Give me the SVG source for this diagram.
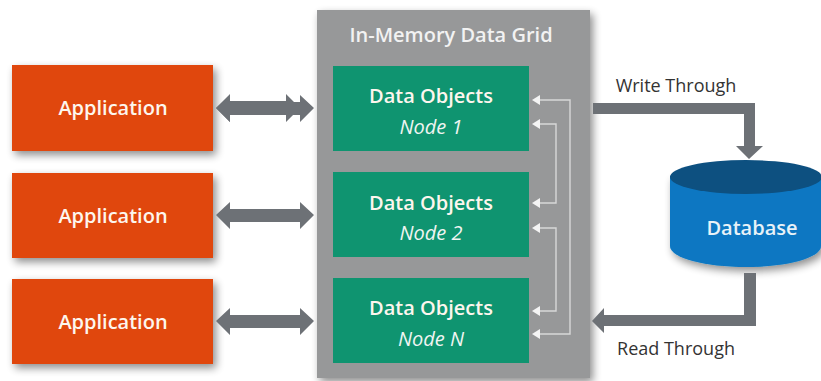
<svg xmlns="http://www.w3.org/2000/svg" width="821" height="381" viewBox="0 0 821 381">
<defs>
<style>
.t{font-family:"Open Sans","Noto Sans",sans-serif;text-anchor:middle}
.b{font-size:20px;font-weight:600;fill:#fdf6ee}
.h{font-size:20px;font-weight:600;fill:#f2f2f2}
.i{font-size:20px;font-style:italic;fill:#f0f5f2}
.l{font-size:18px;fill:#333}
.app{fill:#e0460a;filter:url(#s)}
.obj{fill:#0f9470}
.ar{fill:#6d7176}
.th{fill:none;stroke:#d8d8d8;stroke-width:1.4}
.hd{fill:#f4f4f4}
</style>
<filter id="s" x="-15%" y="-15%" width="130%" height="135%"><feGaussianBlur in="SourceAlpha" stdDeviation="4"/><feOffset dx="3" dy="4"/><feComponentTransfer><feFuncA type="linear" slope="0.45"/></feComponentTransfer><feMerge><feMergeNode/><feMergeNode in="SourceGraphic"/></feMerge></filter>
<symbol id="dbl" overflow="visible"><path d="M0 0L14 -14V-7H70V-14L84 0L70 14V7H14V14Z"/></symbol>
</defs>
<rect width="821" height="381" fill="#fff"/>
<g id="grid"><rect x="317" y="10" width="273" height="368" fill="#979899" filter="url(#s)"/>
<text class="t h" x="451" y="42">In-Memory Data Grid</text></g>
<g id="app1"><rect class="app" x="12" y="65" width="201" height="86"/><text class="t b" x="113" y="115">Application</text></g>
<g id="app2"><rect class="app" x="12" y="173" width="201" height="85"/><text class="t b" x="113" y="223">Application</text></g>
<g id="app3"><rect class="app" x="12" y="279" width="201" height="85"/><text class="t b" x="113" y="329">Application</text></g>
<g id="node1"><rect class="obj" x="333" y="66" width="196" height="85"/><text class="t b" x="431" y="103">Data Objects</text><text class="t i" x="431" y="134">Node 1</text></g>
<g id="node2"><rect class="obj" x="333" y="172" width="196" height="85"/><text class="t b" x="431" y="210">Data Objects</text><text class="t i" x="431" y="240">Node 2</text></g>
<g id="node3"><rect class="obj" x="333" y="278" width="196" height="85"/><text class="t b" x="431" y="315">Data Objects</text><text class="t i" x="431" y="346">Node N</text></g>
<g id="database">
<path d="M670 176V246C670 258 705 267 746 267S821 258 821 246V176Z" fill="#0877c2" filter="url(#s)"/>
<ellipse cx="746" cy="177" rx="76" ry="17" fill="#0d5080"/>
<text class="t h" x="752" y="235" style="fill:#e8f2f8">Database</text></g>
<g id="connectors">
<use href="#dbl" x="216" y="108" class="ar"/>
<use href="#dbl" x="231" y="108" class="ar" style="display:none"/>
<path class="ar" d="M216 108L230 95V102H300V95L314 108L300 122V115H230V122Z"/>
<path class="ar" d="M216 215L230 202V209H300V202L314 215L300 229V222H230V229Z"/>
<path class="ar" d="M216 321L230 308V315H300V308L314 321L300 335V328H230V335Z"/>
<path class="ar" d="M593 103H755V146H763L749 159L736 146H744V114H593Z"/>
<path class="ar" d="M744 273H756V326H604V333L592 321L604 308V315H744Z"/>
<g>
<path class="th" d="M538 100H570V334H538"/>
<path class="th" d="M538 124H556V203H538"/>
<path class="th" d="M538 228H556V311H538"/>
<path class="hd" d="M532 100L540 95V105Z"/><path class="hd" d="M532 124L540 119V129Z"/><path class="hd" d="M532 203L540 198V208Z"/><path class="hd" d="M532 228L540 223V233Z"/><path class="hd" d="M532 311L540 306V316Z"/><path class="hd" d="M532 334L540 329V339Z"/>
</g></g>
<text class="t l" x="676" y="92">Write Through</text>
<text class="t l" x="676" y="355">Read Through</text>
</svg>
